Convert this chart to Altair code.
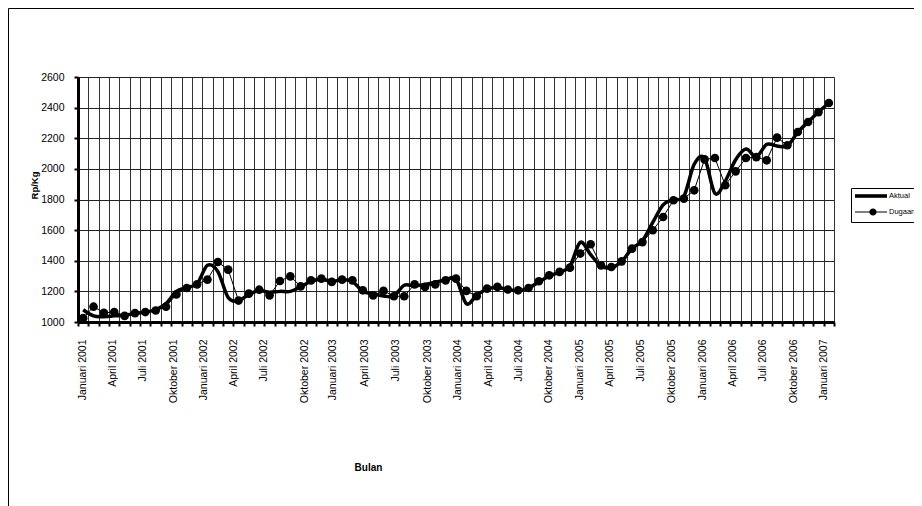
import pandas as pd
import altair as alt

# monthly price, Januari 2001 .. Januari 2007 (Rp/Kg)
aktual = [1080, 1040, 1035, 1040, 1045, 1055, 1065, 1080, 1120, 1200, 1225, 1250,
          1370, 1330, 1160, 1140, 1180, 1205, 1195, 1200, 1200, 1230, 1265, 1280,
          1265, 1275, 1265, 1200, 1185, 1170, 1170, 1240, 1235, 1245, 1260, 1275,
          1280, 1120, 1175, 1215, 1225, 1212, 1205, 1222, 1262, 1300, 1325, 1365,
          1520, 1440, 1365, 1355, 1395, 1480, 1530, 1650, 1765, 1800, 1820, 2030,
          2070, 1840, 1920, 2060, 2130, 2080, 2160, 2150, 2150, 2240, 2306, 2371,
          2430]
dugaan = [1025, 1100, 1060, 1065, 1040, 1058, 1065, 1075, 1100, 1180, 1222, 1246,
          1277, 1392, 1342, 1140, 1185, 1211, 1174, 1268, 1298, 1233, 1272, 1283,
          1262, 1277, 1272, 1207, 1174, 1203, 1168, 1168, 1246, 1229, 1246, 1272,
          1283, 1203, 1168, 1218, 1229, 1212, 1207, 1222, 1266, 1305, 1327, 1355,
          1447, 1508, 1370, 1359, 1396, 1479, 1522, 1599, 1686, 1795, 1806, 1860,
          2062, 2071, 1893, 1984, 2071, 2077, 2056, 2204, 2154, 2241, 2306, 2371,
          2430]

label_text = ["Januari 2001", "April 2001", "Juli 2001", "Oktober 2001",
              "Januari 2002", "April 2002", "Juli 2002", "Oktober 2002",
              "Januari 2003", "April 2003", "Juli 2003", "Oktober 2003",
              "Januari 2004", "April 2004", "Juli 2004", "Oktober 2004",
              "Januari 2005", "April 2005", "Juli 2005", "Oktober 2005",
              "Januari 2006", "April 2006", "Juli 2006", "Oktober 2006",
              "Januari 2007"]
# where the labels sit along the month index
label_pos = [-0.1, 2.8, 5.7, 8.7, 11.6, 14.5, 17.4, 21.4, 24.1, 27.2, 30.2, 33.2,
             36.1, 39.1, 42.0, 44.9, 47.9, 50.8, 53.8, 56.8, 59.8, 62.7, 65.6,
             68.6, 71.5]
y_ticks = [1000, 1200, 1400, 1600, 1800, 2000, 2200, 2400, 2600]
series = ["Aktual", "Dugaan"]

n = len(aktual)
df = pd.DataFrame({
    "i": list(range(n)) * 2,
    "value": aktual + dugaan,
    "series": ["Aktual"] * n + ["Dugaan"] * n,
})
labels_df = pd.DataFrame({"pos": label_pos, "text": label_text})

font = "Liberation Sans"
width = 756
height = 245

x_scale = alt.Scale(domain=[-0.5, n - 0.5], nice=False, zero=False)
y_scale = alt.Scale(domain=[1000, 2600], nice=False, zero=False)

x_axis = alt.Axis(values=[k - 0.5 for k in range(n + 1)], labels=False, grid=True,
                  gridColor="#333333", gridWidth=1, tickColor="black", tickSize=4,
                  tickWidth=2, domainColor="black", domainWidth=3,
                  title="Bulan", titleFont=font, titleFontSize=10, titleFontWeight="bold",
                  titleColor="black", titleX=290, titleY=145, titleAlign="center",
                  titleBaseline="middle")
y_axis = alt.Axis(values=y_ticks, format="d", grid=True, gridColor="#222222", gridWidth=1,
                  tickColor="black", tickSize=4, tickWidth=2, domainColor="black",
                  domainWidth=3, labelFont=font, labelFontSize=10.5, labelColor="black",
                  labelPadding=10, title="Rp/Kg", titleFont=font, titleFontSize=9.5,
                  titleFontWeight="bold", titleColor="black", titleAngle=270,
                  titleX=-44, titleY=108, titleAlign="center", titleBaseline="middle")

x = alt.X("i:Q", scale=x_scale, axis=x_axis)
y = alt.Y("value:Q", scale=y_scale, axis=y_axis)

frame = alt.Chart(pd.DataFrame({"a": [0]})).mark_rect(
    fillOpacity=0, stroke="black", strokeWidth=1
).encode(x=alt.value(-69.5), x2=alt.value(1200), y=alt.value(-68.5), y2=alt.value(900))

aktual_line = alt.Chart(df).transform_filter("datum.series == 'Aktual'").mark_line(
    interpolate="cardinal", color="black", strokeWidth=3.5
).encode(x=x, y=y)

dugaan_line = alt.Chart(df).transform_filter("datum.series == 'Dugaan'").mark_line(
    color="black", strokeWidth=1,
    point=alt.OverlayMarkDef(filled=True, color="black", size=75, opacity=1)
).encode(x=x, y=y)

# legend glyphs: thick line, thin line with dot
path_aktual = "M-1,-0.45H7V0.45H-1Z"
path_dugaan = "M-1,-0.12H7V0.12H-1Z M4.4,0A0.9,0.9,0,1,1,2.6,0A0.9,0.9,0,1,1,4.4,0Z"
legend = alt.Chart(df).transform_filter("false").mark_point(
    filled=True, color="black", opacity=1
).encode(
    shape=alt.Shape("series:N", scale=alt.Scale(domain=series, range=[path_aktual, path_dugaan]),
                    legend=alt.Legend(title=None, orient="none", legendX=773, legendY=111,
                                      strokeColor="black", fillColor="white", padding=3,
                                      labelFont=font, labelFontSize=7.5, labelColor="black",
                                      symbolSize=64, labelOffset=25, rowPadding=4))
)

lines = alt.layer(frame, aktual_line, dugaan_line, legend)

month_labels = alt.Chart(labels_df).mark_point(opacity=0).encode(
    x=alt.X("pos:Q", scale=x_scale, axis=alt.Axis(
        values=label_pos,
        labelExpr="[" + ",".join("'" + t + "'" for t in label_text) + "][indexof(["
                  + ",".join(str(p) for p in label_pos) + "], datum.value)]",
        labelAngle=270, labelAlign="right", labelBaseline="middle", labelFont=font,
        labelFontSize=10.5, labelColor="black", labelPadding=17, labelOverlap=False,
        labelBound=False, labelFlush=False, ticks=False, tickSize=0, domain=False,
        grid=False, title=None, orient="bottom"))
)

chart = alt.layer(lines, month_labels).resolve_scale(x="independent").resolve_axis(
    x="independent"
).properties(
    width=width, height=height,
    autosize=alt.AutoSizeParams(type="none"),
    padding={"left": 70, "top": 69, "right": 80, "bottom": 184},
).configure_view(stroke="black", strokeWidth=2.5).configure(font=font, background="white")

chart.save("out.html", embed_options={"renderer": "svg", "actions": False})
